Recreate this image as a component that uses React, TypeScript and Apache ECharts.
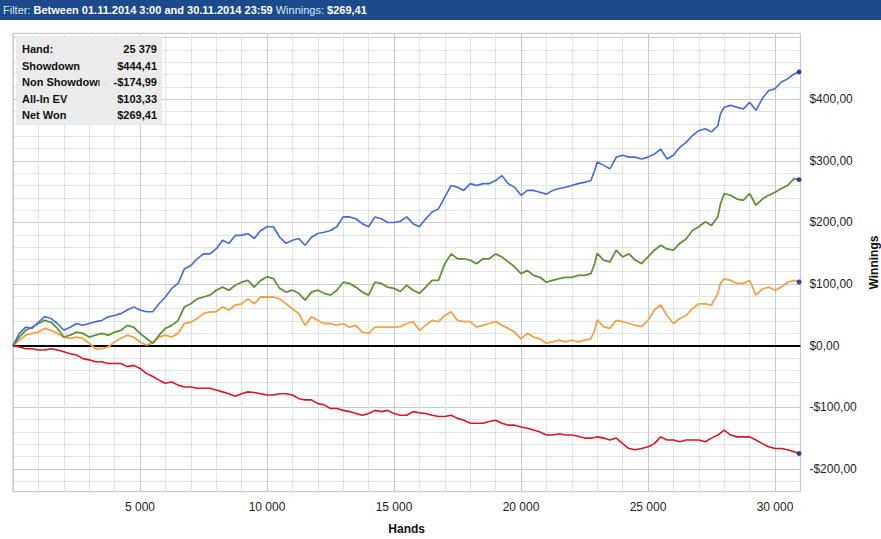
import React, { useEffect, useRef } from "react";
import * as echarts from "echarts";

// Hands (x values)
const HANDS = [
  0, 250, 500, 750, 1000, 1250, 1500, 1750, 2000, 2250, 2500, 2750, 3000, 3250, 3500, 3750,
  4000, 4250, 4500, 4750, 5000, 5250, 5500, 5750, 6000, 6250, 6500, 6750, 7000, 7250, 7500, 7750,
  8000, 8250, 8500, 8750, 9000, 9250, 9500, 9750, 10000, 10250, 10500, 10750, 11000, 11250, 11500, 11750,
  12000, 12250, 12500, 12750, 13000, 13250, 13500, 13750, 14000, 14250, 14500, 14750, 15000, 15250, 15500, 15750,
  16000, 16250, 16500, 16750, 17000, 17250, 17500, 17750, 18000, 18250, 18500, 18750, 19000, 19250, 19500, 19750,
  20000, 20250, 20500, 20750, 21000, 21250, 21500, 21750, 22000, 22250, 22500, 22750, 22900,
  23000, 23250, 23500, 23750, 24000, 24250, 24500, 24750, 25000, 25250, 25500, 25750,
  26000, 26250, 26500, 26750, 27000, 27250, 27500, 27750, 27850,
  28000, 28250, 28500, 28750, 29000, 29250, 29500, 29750, 30000, 30250, 30500, 30750, 30950,
];

const SHOWDOWN = [
  0, 20, 30, 28, 38, 47, 44, 36, 25, 30, 36, 33, 36, 39, 41, 47,
  49, 52, 58, 63, 58, 55, 55, 68, 79, 93, 101, 125, 130, 141, 149, 149,
  157, 171, 166, 179, 179, 182, 174, 187, 193, 193, 176, 166, 171, 174, 163, 176,
  182, 184, 187, 193, 209, 209, 206, 198, 193, 209, 206, 200, 200, 202, 209, 198,
  193, 206, 217, 222, 241, 260, 257, 252, 263, 260, 263, 263, 268, 276, 263, 257,
  244, 252, 252, 249, 246, 252, 255, 257, 260, 263, 265, 268, 284,
  298, 293, 287, 306, 309, 306, 306, 303, 306, 311, 319, 303,
  309, 322, 330, 341, 349, 352, 347, 357, 376,
  387, 390, 387, 384, 395, 382, 401, 414, 417, 428, 433, 441, 444.41,
];

const NET_WON = [
  0, 14, 25, 30, 36, 41, 38, 28, 14, 17, 22, 20, 14, 17, 20, 17,
  22, 25, 33, 30, 20, 12, 4, 17, 28, 33, 41, 63, 68, 76, 79, 82,
  90, 95, 90, 98, 103, 106, 95, 106, 112, 109, 93, 87, 90, 85, 74, 87,
  90, 85, 82, 90, 103, 101, 95, 87, 82, 103, 101, 95, 93, 88, 98, 90,
  85, 95, 106, 106, 133, 149, 141, 141, 139, 133, 141, 141, 149, 144, 136, 128,
  117, 122, 114, 111, 103, 106, 109, 111, 111, 114, 114, 117, 133,
  150, 139, 136, 155, 144, 149, 139, 133, 144, 155, 163, 157,
  155, 166, 173, 187, 193, 201, 195, 209, 230,
  247, 244, 238, 236, 247, 228, 238, 244, 249, 255, 260, 271, 269.41,
];

const ALL_IN_EV = [
  0, 9, 17, 20, 22, 28, 25, 20, 14, 12, 14, 12, 4, -5, -5, -2,
  6, 12, 17, 14, 6, 1, 4, 14, 17, 14, 20, 36, 38, 44, 52, 55,
  55, 63, 58, 66, 68, 76, 68, 79, 79, 79, 76, 68, 60, 52, 33, 47,
  41, 36, 36, 33, 36, 30, 33, 22, 20, 30, 30, 30, 30, 31, 36, 39,
  25, 33, 41, 39, 49, 55, 41, 39, 39, 30, 33, 36, 39, 33, 28, 22,
  11, 20, 14, 11, 4, 6, 9, 6, 9, 6, 9, 11, 25,
  42, 31, 28, 41, 39, 36, 33, 31, 41, 58, 66, 49,
  36, 44, 49, 60, 68, 68, 66, 85, 101,
  109, 106, 101, 101, 106, 82, 92, 95, 90, 95, 103, 106, 103.33,
];

const NON_SHOWDOWN = [
  0, -2, -5, -5, -7, -7, -5, -7, -10, -13, -15, -21, -23, -26, -26, -29,
  -29, -29, -34, -32, -37, -45, -50, -56, -61, -59, -64, -67, -67, -69, -69, -69,
  -72, -75, -78, -82, -78, -75, -76, -78, -80, -80, -78, -78, -80, -86, -88, -88,
  -94, -96, -102, -102, -105, -107, -110, -113, -110, -105, -107, -105, -110, -113, -113, -107,
  -109, -110, -113, -115, -115, -113, -118, -121, -126, -126, -126, -123, -121, -126, -129, -129,
  -132, -134, -137, -140, -145, -145, -143, -145, -145, -147, -150, -150, -149,
  -148, -150, -153, -150, -159, -167, -169, -167, -164, -159, -148, -153,
  -153, -156, -153, -153, -153, -156, -150, -145, -142,
  -137, -145, -148, -148, -148, -153, -159, -164, -167, -167, -169, -172, -174.99,
];

const SUMMARY_LABELS = ["Hand:", "Showdown", "Non Showdown", "All-In EV", "Net Won"];
const SUMMARY_VALUES = ["25 379", "$444,41", "-$174,99", "$103,33", "$269,41"];

const Y_LABELED_TICKS = [-200, -100, 0, 100, 200, 300, 400];
const X_LABELED_TICKS = [5000, 10000, 15000, 20000, 25000, 30000];

const HEADER_FILTER = "Between 01.11.2014 3:00 and 30.11.2014 23:59";
const HEADER_WINNINGS = "$269,41";

const FONT = "'Liberation Sans', Arial, sans-serif";
const MINOR = "#e3e3e3";
const MAJOR = "#c9c9c9";

function pairs(ys: number[]) {
  return HANDS.map((h, i) => [h, ys[i]]);
}

function fmtMoney(v: number) {
  const abs = Math.abs(v);
  return (v < 0 ? "-" : "") + "$" + abs + ",00";
}

function fmtHands(v: number) {
  return String(v).replace(/\B(?=(\d{3})+(?!\d))/g, " ");
}

export default function App() {
  const ref = useRef<HTMLDivElement>(null);

  useEffect(() => {
    if (!ref.current) return;
    const chart = echarts.init(ref.current, null, { renderer: "svg" });
    const last = HANDS.length - 1;

    const grid = { left: 13, right: 80.6, top: 33.3, bottom: 47.3 };

    const graphic: any[] = [
      { type: "rect", shape: { x: 0, y: 0, width: 881, height: 20 }, style: { fill: "#1c4a8b" }, z: 10 },
      {
        type: "text",
        x: 3,
        y: 10,
        z: 11,
        style: {
          text: "{n|Filter: }{b|" + HEADER_FILTER + "}{n| Winnings: }{b|" + HEADER_WINNINGS + "}",
          verticalAlign: "middle",
          rich: {
            n: { fontFamily: FONT, fontSize: 11, fill: "#dfe7f2", color: "#dfe7f2" },
            b: { fontFamily: FONT, fontSize: 11, fontWeight: "bold", fill: "#ffffff", color: "#ffffff" },
          },
        },
      },
      { type: "rect", shape: { x: 16, y: 36, width: 146, height: 89 }, style: { fill: "#ebebeb" }, z: 20 },
    ];
    SUMMARY_LABELS.forEach((t, i) => {
      graphic.push({
        type: "text",
        x: 22,
        y: 49 + i * 16.5,
        z: 21,
        style: { text: t, fontFamily: FONT, fontSize: 11, fontWeight: "bold", fill: "#111", verticalAlign: "middle" },
      });
    });
    graphic.push({ type: "rect", shape: { x: 99.5, y: 74, width: 5, height: 14 }, style: { fill: "#ebebeb" }, z: 22 });
    SUMMARY_VALUES.forEach((t, i) => {
      graphic.push({
        type: "text",
        x: 157,
        y: 49 + i * 16.5,
        z: 23,
        style: { text: t, fontFamily: FONT, fontSize: 11, fontWeight: "bold", fill: "#111", align: "right", verticalAlign: "middle" },
      });
    });

    const lineSeries = (name: string, ys: number[], color: string, width: number) => ({
      name,
      type: "line",
      data: pairs(ys),
      xAxisIndex: 0,
      yAxisIndex: 0,
      showSymbol: false,
      symbol: "none",
      lineStyle: { color, width },
      itemStyle: { color },
      z: 3,
    });

    const option: any = {
      animation: false,
      backgroundColor: "#ffffff",
      grid: { ...grid, containLabel: false, outerBoundsMode: "none", show: true, borderColor: "#bdbdbd", borderWidth: 1 },
      xAxis: [
        {
          type: "value",
          min: 0,
          max: 31000,
          interval: 1000,
          axisLine: { show: true, lineStyle: { color: "#bdbdbd", width: 1 } },
          axisTick: { show: false },
          axisLabel: { show: false },
          splitLine: { show: true, lineStyle: { color: MINOR, width: 1 } },
        },
        {
          type: "value",
          min: 0,
          max: 31000,
          interval: 5000,
          position: "bottom",
          axisLine: { show: false },
          axisTick: { show: false },
          axisLabel: {
            show: true,
            margin: 9,
            color: "#1e1e1e",
            fontFamily: FONT,
            fontSize: 12,
            formatter: (v: number) => (X_LABELED_TICKS.includes(v) ? fmtHands(v) : ""),
          },
          splitLine: { show: true, lineStyle: { color: MAJOR, width: 1 } },
          name: "Hands",
          nameLocation: "middle",
          nameGap: 31,
          nameTextStyle: { fontFamily: FONT, fontSize: 12, fontWeight: "bold", color: "#111" },
        },
      ],
      yAxis: [
        {
          type: "value",
          position: "right",
          min: -237,
          max: 507,
          minInterval: 20,
          maxInterval: 20,
          axisLine: { show: false },
          axisTick: { show: false },
          axisLabel: { show: false },
          splitLine: { show: true, lineStyle: { color: MINOR, width: 1 } },
        },
        {
          type: "value",
          position: "right",
          min: -237,
          max: 507,
          minInterval: 100,
          maxInterval: 100,
          axisLine: { show: false },
          axisTick: { show: false },
          axisLabel: {
            show: true,
            margin: 9,
            color: "#1e1e1e",
            fontFamily: FONT,
            fontSize: 12,
            showMinLabel: true,
            showMaxLabel: true,
            formatter: (v: number) => (Y_LABELED_TICKS.includes(v) ? fmtMoney(v) : ""),
          },
          splitLine: { show: true, lineStyle: { color: MAJOR, width: 1 } },
          name: "Winnings",
          nameLocation: "middle",
          nameGap: 66,
          nameRotate: 90,
          nameTextStyle: { fontFamily: FONT, fontSize: 12, fontWeight: "bold", color: "#111" },
        },
      ],
      graphic,
      series: [
        lineSeries("All-In EV", ALL_IN_EV, "#f4a24a", 1.8),
        lineSeries("Net Won", NET_WON, "#5e9237", 1.8),
        lineSeries("Showdown", SHOWDOWN, "#4169e1", 1.6),
        {
          ...lineSeries("Non Showdown", NON_SHOWDOWN, "#db1620", 1.6),
          markLine: {
            silent: true,
            symbol: ["none", "none"],
            label: { show: false },
            lineStyle: { color: "#000000", width: 2, type: "solid" },
            data: [{ yAxis: 0 }],
            z: 2,
          },
        },
        {
          name: "End",
          type: "scatter",
          xAxisIndex: 0,
          yAxisIndex: 0,
          symbol: "circle",
          symbolSize: 5,
          itemStyle: { color: "#1b1b8f" },
          z: 5,
          data: [
            [HANDS[last], SHOWDOWN[last]],
            [HANDS[last], NET_WON[last]],
            [HANDS[last], ALL_IN_EV[last]],
            [HANDS[last], NON_SHOWDOWN[last]],
          ],
        },
      ],
    };

    chart.setOption(option);
    return () => {
      chart.dispose();
    };
  }, []);

  return (
    <div
      ref={ref}
      style={{ position: "fixed", left: 0, top: 0, width: 881, height: 539, background: "#ffffff" }}
    />
  );
}
